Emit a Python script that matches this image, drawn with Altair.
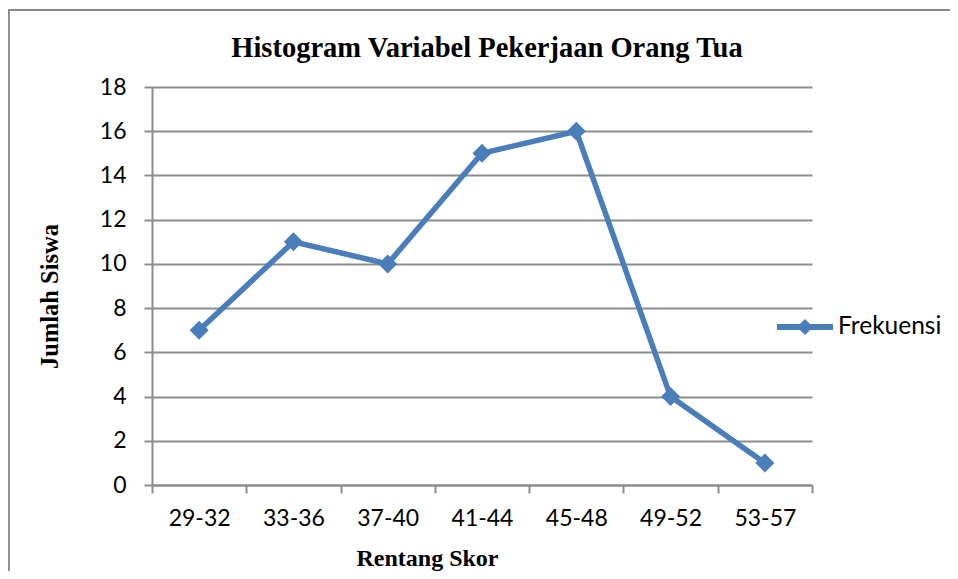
import altair as alt
import pandas as pd

categories = ["29-32", "33-36", "37-40", "41-44", "45-48", "49-52", "53-57"]
frekuensi = [7, 11, 10, 15, 16, 4, 1]
series_name = "Frekuensi"
y_ticks = [0, 2, 4, 6, 8, 10, 12, 14, 16, 18]

df = pd.DataFrame({"Rentang": categories, "Jumlah": frekuensi, "Seri": [series_name] * len(categories)})

W, H = 660, 398
BLUE = "#4A7EBB"
GRAY = "#8c8c8c"

x_enc = alt.X(
    "Rentang:N",
    sort=categories,
    scale=alt.Scale(paddingInner=0, paddingOuter=0),
    axis=alt.Axis(
        title="Rentang Skor",
        tickBand="extent",
        labelAngle=0,
        labelBaseline="middle",
        labelPadding=25,
        titleX=275,
        titleY=80,
        titleBaseline="alphabetic",
        titleAnchor="start",
        titleAlign="center",
    ),
)
y_enc = alt.Y(
    "Jumlah:Q",
    scale=alt.Scale(domain=[0, 18], nice=False),
    axis=alt.Axis(
        title="Jumlah Siswa",
        values=y_ticks,
        grid=True,
        labelPadding=18,
        titleX=-95,
        titleY=209,
        titleBaseline="alphabetic",
        titleAlign="center",
        titleAngle=270,
        titleFontSize=24.5,
    ),
)

border = alt.Chart(df).mark_rect(fill=None, stroke="#8a8a8a", strokeWidth=1.5).encode(
    x=alt.value(-143.5), x2=alt.value(W + 300), y=alt.value(-77), y2=alt.value(H + 300)
)

line = alt.Chart(df).mark_line(strokeWidth=5.5, color=BLUE).encode(x=x_enc, y=y_enc)

legend_path = "M-1,-0.11L1,-0.11L1,0.11L-1,0.11Z M0,-0.29L0.29,0L0,0.29L-0.29,0Z"

points = alt.Chart(df).mark_point(filled=True, shape="diamond", size=360, opacity=1).encode(
    x=x_enc,
    y=y_enc,
    color=alt.Color(
        "Seri:N",
        scale=alt.Scale(domain=[series_name], range=[BLUE]),
        legend=alt.Legend(
            title=None,
            orient="none",
            legendX=625,
            legendY=212,
            symbolType=legend_path,
            symbolSize=3136,
            symbolStrokeWidth=0,
            symbolFillColor=BLUE,
            symbolOpacity=1,
            labelOffset=5,
            labelFont="Lato",
            labelFontSize=24.5,
            labelColor="#000000",
            padding=0,
        ),
    ),
)

chart = (
    alt.layer(border, line, points)
    .properties(
        width=W,
        height=H,
        title=alt.TitleParams(
            "Histogram Variabel Pekerjaan Orang Tua",
            font="Liberation Serif",
            fontSize=28.5,
            fontWeight="bold",
            color="#000000",
            anchor="middle",
            frame="group",
            baseline="alphabetic",
            offset=0,
            dy=76,
            dx=5,
        ),
        autosize=alt.AutoSizeParams(type="none"),
        padding={"left": 144, "top": 79, "right": 138, "bottom": 86},
    )
    .configure_view(stroke=None)
    .configure_axis(
        labelFont="Lato",
        labelFontSize=23,
        labelColor="#000000",
        titleFont="Liberation Serif",
        titleFontSize=24,
        titleFontWeight="bold",
        titleColor="#000000",
        domainColor=GRAY,
        domainWidth=2,
        tickColor=GRAY,
        tickWidth=2,
        tickSize=8,
        gridColor=GRAY,
        gridWidth=2,
        gridOpacity=1,
    )
    .configure_axisX(grid=False)
)

chart.save("out.html", embed_options={"renderer": "svg", "actions": False})
